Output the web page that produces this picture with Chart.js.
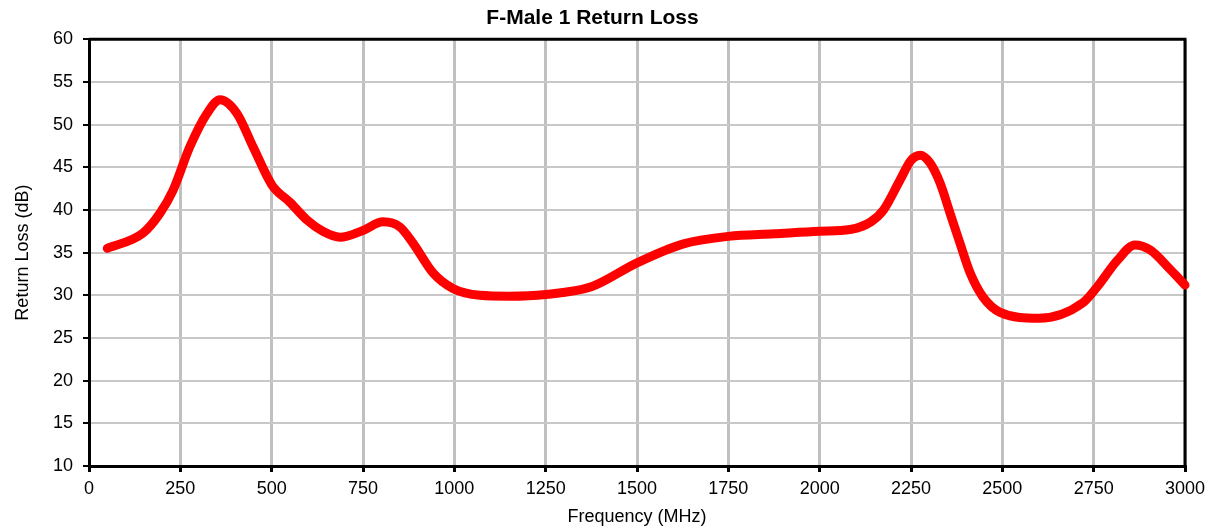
<!DOCTYPE html>
<html><head><meta charset="utf-8">
<script src="https://cdn.jsdelivr.net/npm/chart.js@4.4.0/dist/chart.umd.min.js"></script>
<style>html,body{margin:0;padding:0;background:#fff;}#wrap{width:1212px;height:529px;}</style>
</head><body><div id="wrap"><canvas id="c"></canvas></div>
<script>
const freqMHz = [50,148,194,230,276,323,359,405,449,501,550,597,640,687,750,805,851,887,942,996,1070,1150,1250,1375,1500,1625,1750,1875,2000,2083,2140,2175,2220,2250,2275,2302,2330,2357,2384,2412,2447,2494,2600,2720,2760,2815,2863,2905,2960,3000];
const returnLossDB = [35.5,37.3,39.6,42.3,47.4,51.3,52.9,51.3,47.4,42.9,40.9,38.8,37.5,36.8,37.6,38.6,38.0,36.1,32.6,30.8,30.0,29.9,30.1,31.0,33.8,36.0,36.9,37.2,37.5,37.7,38.6,40.0,43.5,45.8,46.4,45.5,43.1,39.6,36.1,32.6,29.8,28.0,27.3,29.1,31.0,34.1,35.9,35.3,33.0,31.2];
const xTicks = [0,250,500,750,1000,1250,1500,1750,2000,2250,2500,2750,3000];
const yTicks = [10,15,20,25,30,35,40,45,50,55,60];
const FONT = 'Liberation Sans, Arial, sans-serif';

const frame = {
  id:'frame',
  beforeDatasetsDraw(chart){
    const {ctx, chartArea:a} = chart;
    ctx.save();
    ctx.strokeStyle='#000'; ctx.lineWidth=3;
    ctx.beginPath();
    ctx.moveTo(a.left,a.top); ctx.lineTo(a.right,a.top); ctx.lineTo(a.right,a.bottom);
    ctx.stroke();
    ctx.restore();
  }
};

new Chart(document.getElementById('c'), {
  type:'scatter',
  data:{datasets:[{
    data: freqMHz.map((f,i)=>({x:f,y:returnLossDB[i]})),
    showLine:true, borderColor:'#FF0000', borderWidth:9, pointRadius:0,
    cubicInterpolationMode:'monotone',
    borderCapStyle:'round', borderJoinStyle:'round', clip:false
  }]},
  options:{
    responsive:true, maintainAspectRatio:false, animation:false,
    layout:{padding:{left:0,right:27,top:0,bottom:0}},
    plugins:{
      legend:{display:false}, tooltip:{enabled:false},
      title:{display:true, text:'F-Male 1 Return Loss', color:'#000',
        font:{family:FONT, size:21, weight:'bold'}, padding:{top:6,bottom:8}}
    },
    scales:{
      x:{type:'linear', min:0, max:3000,
        afterBuildTicks(s){ s.ticks = xTicks.map(v=>({value:v})); },
        afterFit(s){ s.height = 63; },
        grid:{color:'#C0C0C0', lineWidth:3, tickColor:'#000', tickLength:6},
        border:{display:true,color:'#000',width:3},
        ticks:{color:'#000', font:{family:FONT, size:18}, padding:6, maxRotation:0, callback:v=>String(v)},
        title:{display:true, text:'Frequency (MHz)', color:'#000', font:{family:FONT, size:18}, padding:{top:0,bottom:1}}
      },
      y:{type:'linear', min:10, max:60,
        afterBuildTicks(s){ s.ticks = yTicks.map(v=>({value:v})); },
        afterFit(s){ s.width = 89; },
        grid:{color:'#C8C8C8', lineWidth:2, tickColor:'#000', tickLength:6},
        border:{display:true,color:'#000',width:3},
        ticks:{color:'#000', font:{family:FONT, size:18}, padding:10, callback:v=>String(v)},
        title:{display:true, text:'Return Loss (dB)', color:'#000', font:{family:FONT, size:18}, padding:{top:12,bottom:0}}
      }
    }
  },
  plugins:[frame]
});
</script></body></html>
